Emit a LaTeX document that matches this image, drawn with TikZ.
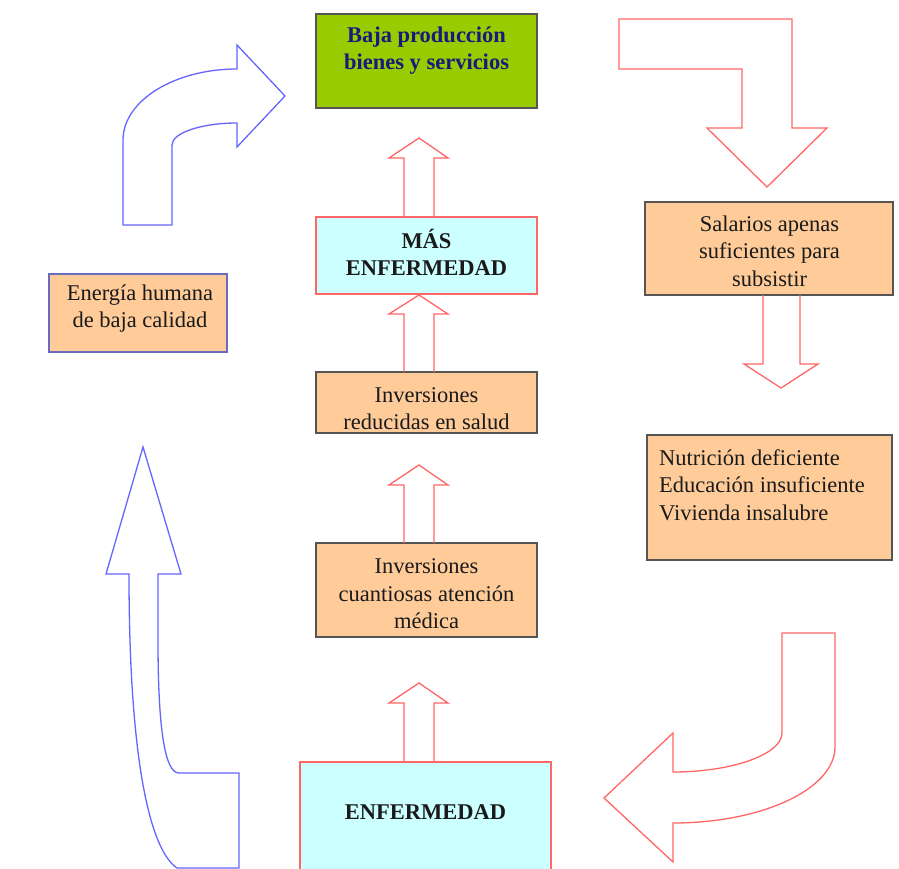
\documentclass[tikz,border=0pt]{standalone}
\usepackage{fontspec}
\setmainfont{Liberation Serif}
\definecolor{orangefill}{HTML}{FFCC99}
\definecolor{greenfill}{HTML}{99CC00}
\definecolor{cyanfill}{HTML}{CCFFFF}
\definecolor{boxgray}{HTML}{555555}
\definecolor{redline}{HTML}{FF6666}
\definecolor{blueline}{HTML}{6666FF}
\definecolor{purpleline}{HTML}{6A6ABF}
\definecolor{navytext}{HTML}{1A1A7A}
\definecolor{darktext}{HTML}{1A1A1A}
\begin{document}
\begin{tikzpicture}[x=1pt,y=-1pt,
  boxbase/.style={rectangle, inner sep=0pt, line width=1.3pt},
  orangebox/.style={boxbase, draw=boxgray, fill=orangefill},
  greenbox/.style={boxbase, draw=boxgray, fill=greenfill},
  cyanbox/.style={boxbase, draw=redline, fill=cyanfill},
  lbl/.style={inner sep=0pt, align=center, text=darktext, font=\fontsize{22.5}{27.5}\selectfont},
  boldlbl/.style={lbl, font=\fontsize{22.5}{27.5}\selectfont\bfseries},
  redarrow/.style={draw=redline, line width=1.3pt, line join=miter},
  bluearrow/.style={draw=blueline, line width=1.3pt, line join=miter}]
\useasboundingbox (0,0) rectangle (899,869);
\clip (0,0) rectangle (899,869);
\fill[white] (0,0) rectangle (899,869);

% boxes
\node[greenbox, minimum width=221pt, minimum height=94pt] (baja) at (426.5,61) {};
\node[cyanbox, minimum width=221pt, minimum height=77pt] (mas) at (426.5,255.5) {};
\node[orangebox, minimum width=221pt, minimum height=61pt] (reduc) at (426.5,402.5) {};
\node[orangebox, minimum width=221pt, minimum height=94pt] (cuant) at (426.5,590) {};
\node[cyanbox, minimum width=251pt, minimum height=160pt] (enf) at (425.5,842) {};
\node[orangebox, minimum width=248pt, minimum height=93pt] (sal) at (769,248.5) {};
\node[orangebox, minimum width=245pt, minimum height=125pt] (nut) at (769.5,497.5) {};
\node[orangebox, draw=purpleline, minimum width=178pt, minimum height=78pt] (ener) at (138,313) {};

% texts
\node[boldlbl, text=navytext] (tbaja) at (426.5,50.5) {Baja producción\\bienes y servicios};
\node[boldlbl] (tmas) at (426.5,252.5) {MÁS\\ENFERMEDAD};
\node[lbl] (treduc) at (426.5,408.5) {Inversiones\\reducidas en salud};
\node[lbl] (tcuant) at (426.5,594) {Inversiones\\cuantiosas atención\\médica};
\node[boldlbl] (tenf) at (425.5,812) {ENFERMEDAD};
\node[lbl] (tsal) at (769.5,251) {Salarios apenas\\suficientes para\\subsistir};
\node[lbl, align=left, anchor=west] (tnut) at (659,485) {Nutrición deficiente\\Educación insuficiente\\Vivienda insalubre};
\node[lbl] (tener) at (140,308.5) {Energía humana\\de baja calidad};

% vertical red block arrows (middle column)
\draw[redarrow] (404,217) -- (404,158) -- (389,158) -- (419,138) -- (448,158) -- (434,158) -- (434,217);
\draw[redarrow] (404,372) -- (404,314) -- (389,314) -- (419,295) -- (448,314) -- (434,314) -- (434,372);
\draw[redarrow] (404,543) -- (404,485) -- (389,485) -- (419,465) -- (448,485) -- (434,485) -- (434,543);
\draw[redarrow] (404,762) -- (404,703) -- (389,703) -- (419,683) -- (448,703) -- (434,703) -- (434,762);

% right column down arrow
\draw[redarrow] (763,295) -- (763,364) -- (744,364) -- (781,388) -- (818,364) -- (800,364) -- (800,295);

% top-right bent arrow
\draw[redarrow] (619,19) -- (792,19) -- (792,128) -- (827,128) -- (767,187) -- (707,128) -- (742,128) -- (742,69) -- (619,69) -- cycle;

% bottom-right curved arrow
\draw[redarrow] (782,633) -- (835,633) -- (835,747) .. controls (835,789) and (762,823) .. (673,823)
  -- (673,862) -- (604,798) -- (673,733) -- (673,772) .. controls (733,772) and (782,754) .. (782,733) -- cycle;

% top-left curved blue arrow
\draw[bluearrow] (123,225) -- (123,140) .. controls (123,101) and (174,69) .. (237,69) -- (237,45) -- (285,96)
  -- (237,147) -- (237,123) .. controls (201,123) and (172,133) .. (172,145) -- (172,225) -- cycle;

% bottom-left curved blue arrow
\draw[bluearrow] (143,447) -- (181,574) -- (158,574) -- (158,640) .. controls (158,730) and (165,773) .. (179,773)
  -- (239,773) -- (239,868) -- (177,868) .. controls (150,850) and (129,760) .. (129,574) -- (106,574) -- cycle;
\end{tikzpicture}
\end{document}
